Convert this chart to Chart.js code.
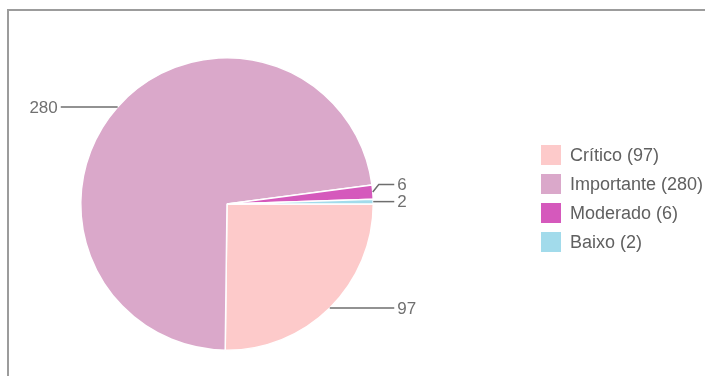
<!DOCTYPE html>
<html>
<head>
<meta charset="utf-8">
<script src="https://cdn.jsdelivr.net/npm/chart.js@4/dist/chart.umd.min.js"></script>
<style>
    body { margin: 0; background: #fff; overflow: hidden; }
    #wrap { position: relative; width: 705px; height: 376px; }
    #frame {
        position: absolute; left: 7px; top: 9px; width: 720px; height: 400px;
        border-left: 2px solid #9c9c9c; border-top: 2px solid #9c9c9c;
    }
    #pieData { position: absolute; left: 0; top: 0; }
</style>
</head>
<body>
<div id="wrap">
    <div id="frame"></div>
    <canvas id="pieData" width="705" height="376"></canvas>
</div>
<script>
var categories = ['Crítico', 'Importante', 'Moderado', 'Baixo'];
var counts = [97, 280, 6, 2];
var sliceColors = ['#FDCACA', '#DAA8CA', '#D559BC', '#A2DBEB'];

var fontFamily = '"Liberation Sans", Arial, sans-serif';

// value labels outside the pie, joined to each slice with a thin line
var leaderLines = {
    id: 'leaderLines',
    afterDatasetsDraw: function (chart) {
        var ctx = chart.ctx;
        var arcs = chart.getDatasetMeta(0).data;
        var left = [], right = [];
        arcs.forEach(function (arc, i) {
            var p = arc.getProps(['x', 'y', 'startAngle', 'endAngle', 'outerRadius'], true);
            var mid = (p.startAngle + p.endAngle) / 2;
            var ex = p.x + Math.cos(mid) * p.outerRadius;
            var ey = p.y + Math.sin(mid) * p.outerRadius;
            var item = { ex: ex, ey: ey, ly: ey, cx: p.x, r: p.outerRadius, text: String(counts[i]) };
            (Math.cos(mid) >= 0 ? right : left).push(item);
        });

        // keep labels on the same side from overlapping
        [left, right].forEach(function (side) {
            side.sort(function (a, b) { return b.ly - a.ly; });
            for (var k = 1; k < side.length; k++) {
                if (side[k - 1].ly - side[k].ly < 17) {
                    side[k].ly = side[k - 1].ly - 17;
                }
            }
        });

        ctx.save();
        ctx.strokeStyle = '#6e6e6e';
        ctx.lineWidth = 1.5;
        ctx.fillStyle = '#707070';
        ctx.font = '17px ' + fontFamily;
        ctx.textBaseline = 'middle';
        right.forEach(function (it) {
            var tx = it.cx + it.r + 21;
            ctx.beginPath();
            ctx.moveTo(it.ex, it.ey);
            ctx.lineTo(Math.min(it.ex + 6, tx), it.ly);
            ctx.lineTo(tx, it.ly);
            ctx.stroke();
            ctx.textAlign = 'left';
            ctx.fillText(it.text, tx + 3, it.ly + 1);
        });
        left.forEach(function (it) {
            var tx = it.cx - it.r - 20;
            ctx.beginPath();
            ctx.moveTo(it.ex, it.ey);
            ctx.lineTo(Math.max(it.ex - 6, tx), it.ly);
            ctx.lineTo(tx, it.ly);
            ctx.stroke();
            ctx.textAlign = 'right';
            ctx.fillText(it.text, tx - 3, it.ly + 1);
        });
        ctx.restore();
    }
};

// legend box on the right: swatch + "name (count)"
var sideLegend = {
    id: 'sideLegend',
    afterDraw: function (chart) {
        var ctx = chart.ctx;
        var x = 541, step = 29;
        var top = 155;
        ctx.save();
        ctx.font = '18px ' + fontFamily;
        ctx.textBaseline = 'middle';
        ctx.textAlign = 'left';
        categories.forEach(function (name, i) {
            var y = top + i * step;
            ctx.fillStyle = sliceColors[i];
            ctx.fillRect(x, y - 10, 20, 20);
            ctx.fillStyle = '#606060';
            ctx.fillText(name + ' (' + counts[i] + ')', x + 29, y + 1);
        });
        ctx.restore();
    }
};

function prepareChart()
{
    var ctx = document.getElementById('pieData').getContext('2d');
    var chart = new Chart(ctx, {
        type: 'pie',
        data: {
            labels: categories,
            datasets: [{
                data: counts,
                backgroundColor: sliceColors,
                borderColor: '#ffffff',
                borderWidth: 1.5
            }]
        },
        options: {
            responsive: false,
            devicePixelRatio: 1,
            animation: false,
            rotation: 90,
            layout: {
                padding: { left: 80, right: 331, top: 57, bottom: 25 }
            },
            plugins: {
                legend: { display: false },
                tooltip: { enabled: false }
            }
        },
        plugins: [leaderLines, sideLegend]
    });
}

prepareChart();
</script>
</body>
</html>
